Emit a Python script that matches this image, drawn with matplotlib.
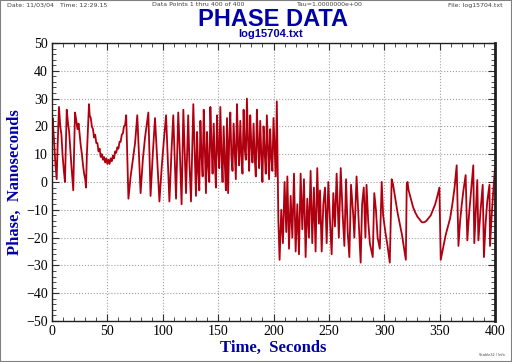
import matplotlib.pyplot as plt
from matplotlib.ticker import MultipleLocator
from matplotlib.patches import Rectangle

# turning points: time (s), phase (ns)
t_a = [0, 0.6, 2, 3, 4.2, 5, 6.3, 7.5, 8.5, 9.5, 10.5, 11.7, 12.5, 13.3, 14.5, 15.5,
       16.5, 17.5, 18.5, 19.2, 20, 20.8, 22, 23, 24, 25, 26, 27, 28, 29, 30, 30.7,
       31.5, 32.5, 33.4, 34, 35, 36, 37, 38, 39, 40, 41, 42, 43, 44, 45, 46, 47, 48,
       49, 50, 51, 52, 53, 54, 55, 56, 57, 58, 59, 60, 61, 62, 63, 64, 65, 66, 67]
v_a = [20, 23, 14, 7, 1, 12, 27, 20, 17, 10, 5, 0, 13, 26, 21, 18,
       12, 6, 1, -3, 12, 25, 22, 19, 21, 17, 13, 10, 6, 3, 1, -2,
       10, 20, 28, 24, 23, 20, 19, 16, 17, 14, 14, 11, 12, 9, 10, 8, 9, 7,
       8.5, 6.5, 8, 6.5, 8.5, 7.5, 9.5, 8.5, 11, 10.5, 12.5, 12, 14.5, 14.5, 17, 17.5, 20, 20.5, 24]

t_b = [69, 71, 73, 75, 77, 80, 82, 84, 87, 89, 91, 93, 95, 97, 99, 101, 103, 106,
       108, 109.5, 112, 114, 115.5, 117, 118.6, 121, 123, 124, 125.5, 127.6, 130]
v_b = [-6, 2, 8, 14, 24, -4, 8, 16, 25, -5, 10, 23, 8, -7, 5, 15, 24, -7,
       12, 24, -6, 25, 10, -8, 26, -4, 24, 8, -7, 28, -5]

# dense part, one reading per second, 131..203 s
t_c = list(range(131, 204))
v_c = [18, 4, -3, 22, 10, 2, 26, 12, -4, 18, 6, 0, 27, 14, 3, 21, 8, -2, 24, 12,
       5, 27, 10, 0, 20, 7, -3, 23, -4, 15, 25, 9, 4, 21, 11, 1, 28, 14, 6, 22,
       10, 3, 26, 12, 8, 30, 15, 4, 24, 13, 7, 21, 9, 2, 26, 14, 5, 22, 10, 0,
       20, 11, 3, 24, 12, 1, 19, 9, 4, 23, 12, 2, 29]

t_d = [204.4, 205.5, 207, 208.5, 210, 211.5, 212.5, 214, 215.5, 217, 218.5, 220, 221.5,
       223, 224.5, 226, 227.5, 229, 230.5, 232, 233.5, 235, 236.5, 238, 239.5, 241,
       242, 243.5, 245, 246.5, 248, 249.5, 251, 252.5, 254, 255.5, 257, 259, 260.7,
       262.5, 264, 265.5, 267, 268.5, 270, 272, 273, 275, 277, 278.7, 280, 281.5, 283,
       284, 285.5, 287, 289.6, 291, 292.5, 294, 296, 297.7, 299, 301, 303, 305]
v_d = [-14, -28, -10, -22, 0, -18, 2, -24, -5, -20, 3, -25, -8,
       -26, 3, -17, 1, -27, -6, -20, 4, -22, -2, -25, 5, -15,
       -3, -25, -8, -2, -22, 0, -14, -26, -4, -16, 3, -20, 5,
       -12, -23, 1, -18, -27, -1, -12, -20, 2, -15, -29, -8, -2, -20,
       -1, -14, -22, -27, -4, -10, -20, -24, 0, -12, -18, -23, -29]

t_e = [306.7, 308, 310, 312, 314, 316, 318, 319.5, 320.3, 321, 322, 324, 326, 328, 330,
       332, 334, 336, 338, 340, 342, 344, 346, 348, 349.8, 351, 352, 353.5, 355.5,
       357.5, 359.5, 361.5, 363.5, 365.4, 367, 368.5, 370, 371.5, 373.5, 375, 376.5,
       378.5, 380.4, 381.3, 383, 384, 385, 387, 388.9, 390, 391.5, 393, 395, 395.5,
       397, 398.5, 400]
v_e = [1, -1, -6, -11, -15, -19, -24, -28, -1, 0, -3, -6, -9, -11, -12.5,
       -13.5, -14.5, -14.5, -14, -13, -12, -10, -8, -5, -2, -28, -26, -23, -19,
       -16, -13, -8, -2, 6, -23, -14, -8, -3, 2.5, -21, -12,
       -3, 6, -22, -8, 0.7, -21, -10, -1, -27, -15, -7, -1, -23,
       -12, -3, 5]

times = t_a + t_b + t_c + t_d + t_e
phase = v_a + v_b + v_c + v_d + v_e

blue = "#0000a8"

fig = plt.figure(figsize=(5.12, 3.62), dpi=100)
ax = fig.add_axes([52/512, 41/362, 443/512, 278/362])

ax.plot(times, phase, color="#b00010", lw=1.3)

ax.set_xlim(0, 400)
ax.set_ylim(-50, 50)
ax.xaxis.set_major_locator(MultipleLocator(50))
ax.xaxis.set_minor_locator(MultipleLocator(10))
ax.yaxis.set_major_locator(MultipleLocator(10))
ax.yaxis.set_minor_locator(MultipleLocator(2))
ax.tick_params(which="both", direction="in", top=True, right=True, color="#303030")
ax.tick_params(which="major", length=5, labelsize=10, pad=3)
ax.tick_params(which="minor", length=3)
for lab in ax.get_xticklabels() + ax.get_yticklabels():
    lab.set_family("Liberation Serif")
ax.grid(True, which="major", ls=":", color="#a0a0a0", lw=0.8)
for s in ax.spines.values():
    s.set_color("#202020")
    s.set_linewidth(1)
ax.spines["right"].set_linewidth(2)

ax.set_xlabel("Time,  Seconds", family="Liberation Serif", weight="bold",
              fontsize=12, color=blue, labelpad=1)
ax.set_ylabel("Phase,  Nanoseconds", family="Liberation Serif", weight="bold",
              fontsize=12, color=blue, labelpad=2)

# titles and header
fig.text(273/512, 1 - 19/362, "PHASE DATA", ha="center", va="center",
         family="Liberation Sans", weight="bold", fontsize=17, color=blue)
fig.text(271/512, 1 - 34/362, "log15704.txt", ha="center", va="center",
         family="Liberation Sans", weight="bold", fontsize=8, color=blue)
hdr = dict(fontsize=4.5, color="#404040", va="center")
fig.text(7/512, 1 - 5/362, "Date: 11/03/04   Time: 12:29.15", ha="left", **hdr)
fig.text(198/512, 1 - 5/362, "Data Points 1 thru 400 of 400", ha="center", **hdr)
fig.text(330/512, 1 - 5/362, "Tau=1.0000000e+00", ha="center", **hdr)
fig.text(503/512, 1 - 5/362, "File: log15704.txt", ha="right", **hdr)
fig.text(505/512, 1 - 355/362, "Stable32 / Info", ha="right", va="center",
         fontsize=2.5, color="#404040")

fig.patches.append(Rectangle((0, 0), 1, 1, transform=fig.transFigure, fill=False,
                             edgecolor="#808080", lw=1.5))

fig.savefig("out.png", dpi=100)
